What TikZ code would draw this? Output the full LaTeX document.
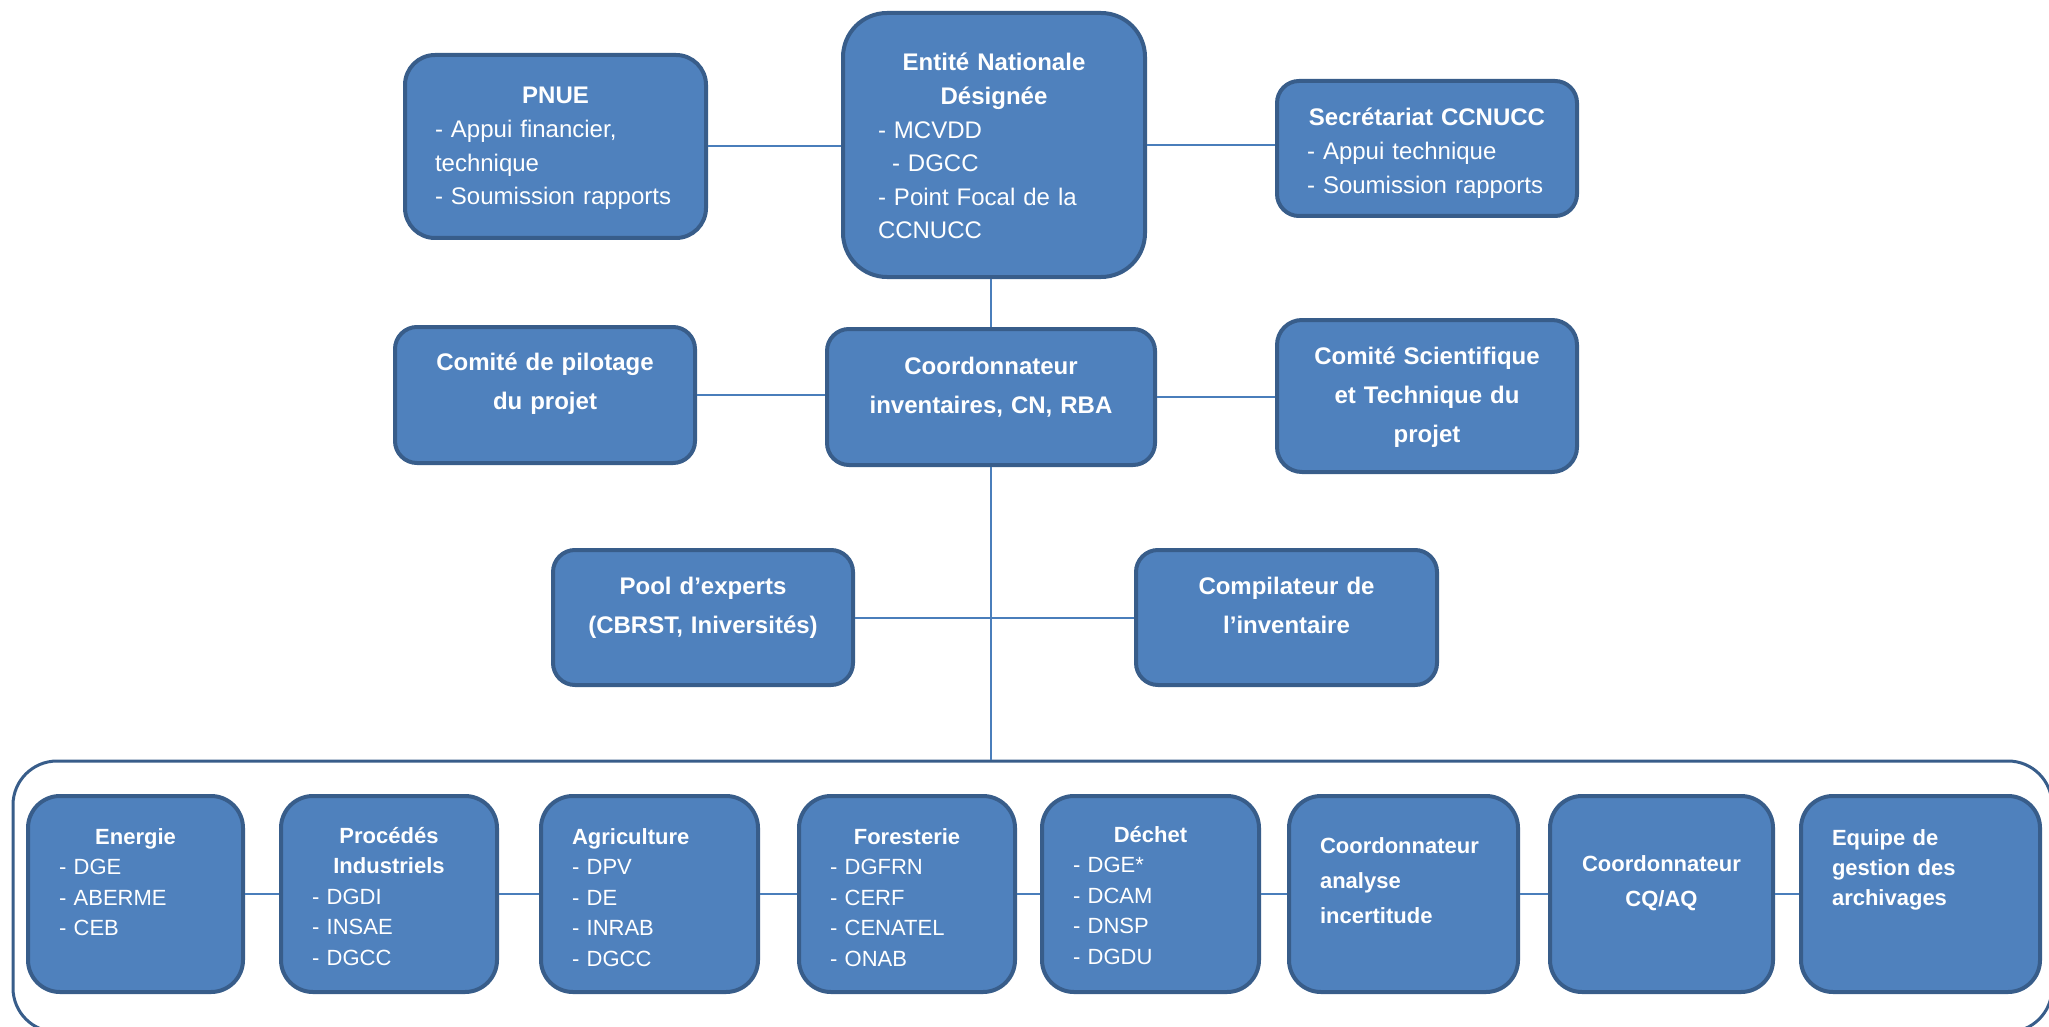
\documentclass[tikz,border=0pt]{standalone}
\usepackage{fontspec}
\setmainfont{Liberation Sans}
\usepackage{tikz}
\usetikzlibrary{positioning}
\definecolor{boxfill}{HTML}{4F81BD}
\definecolor{boxline}{HTML}{385D8A}
\definecolor{linkblue}{HTML}{4A7EBB}
\newcommand{\ttl}[1]{\makebox[\hsize]{\bfseries #1}}
\tikzset{%
  link/.style = {draw=linkblue, line width=1pt},
  card/.style = {rectangle, draw=boxline, fill=boxfill, line width=2pt,
        text=white, inner xsep=15pt, inner ysep=0pt, align=left},
  topbox/.style = {card, font=\fontsize{12}{16.8}\selectfont},
  midbox/.style = {card, inner xsep=10pt, align=center,
        font=\bfseries\fontsize{12}{19.6}\selectfont},
  secbox/.style = {card, inner xsep=15.5pt, text height=24pt, text depth=74pt,
        rounded corners=16pt, font=\fontsize{11}{15.3}\selectfont},
  grp/.style = {rectangle, draw=boxline, fill=white, line width=1.5pt,
        rounded corners=22pt, inner sep=0pt}
}
\begin{document}
\begin{tikzpicture}[x=0.5pt, y=-0.5pt]
\useasboundingbox (0,0) rectangle (2049,1027);
% regroupement des secteurs
\node[grp, minimum width=1019.5pt, minimum height=135.5pt] (team) at (1032.5,896.5) {};
% niveau haut
\node[topbox, text width=120.5pt, text height=24.5pt, text depth=67pt,
      rounded corners=15pt] (pnue) at (555.5,146.5)
    {\ttl{PNUE}\\- Appui financier,\\technique\\- Soumission rapports};
\node[topbox, inner xsep=17.5pt, text width=116pt, text height=29pt,
      text depth=103pt, rounded corners=22pt] (ent) at (994,145)
    {\ttl{Entité Nationale}\\\ttl{Désignée}\\- MCVDD\\\hspace*{7pt}- DGCC\\- Point Focal de la\\CCNUCC};
\node[topbox, text width=120pt, text height=22.5pt, text depth=45pt,
      rounded corners=11pt] (secr) at (1427,148.5)
    {\ttl{Secrétariat CCNUCC}\\- Appui technique\\- Soumission rapports};
% coordination
\node[midbox, text width=130pt, text height=21.5pt, text depth=46.5pt,
      rounded corners=11pt] (copil) at (545,395) {Comité de pilotage\\du projet};
\node[midbox, text width=144pt, text height=22.5pt, text depth=45.5pt,
      rounded corners=11pt] (coord) at (991,397) {Coordonnateur\\inventaires, CN, RBA};
\node[midbox, text width=130pt, text height=22pt, text depth=54pt,
      rounded corners=12.5pt] (csci) at (1427,396) {Comité Scientifique\\et Technique du\\projet};
\node[midbox, text width=130pt, text height=22pt, text depth=45.5pt,
      rounded corners=11pt] (pool) at (703,617.5) {Pool d’experts\\(CBRST, Iniversités)};
\node[midbox, text width=130.5pt, text height=22pt, text depth=45.5pt,
      rounded corners=11pt] (comp) at (1286.5,617.5) {Compilateur de\\l’inventaire};
% secteurs
\node[secbox, text width=76.5pt] (ener) at (135.5,894)
    {\ttl{Energie}\\- DGE\\- ABERME\\- CEB};
\node[secbox, text width=77pt, text height=23.5pt, text depth=74.5pt] (proc) at (389,894)
    {\ttl{Procédés}\\\ttl{Industriels}\\- DGDI\\- INSAE\\- DGCC};
\node[secbox, text width=77.5pt] (agri) at (649.5,894)
    {\textbf{Agriculture}\\- DPV\\- DE\\- INRAB\\- DGCC};
\node[secbox, text width=77pt] (fore) at (907,894)
    {\ttl{Foresterie}\\- DGFRN\\- CERF\\- CENATEL\\- ONAB};
\node[secbox, text width=77.5pt, text height=23pt, text depth=75pt] (dech) at (1150.5,894)
    {\ttl{Déchet}\\- DGE*\\- DCAM\\- DNSP\\- DGDU};
\node[secbox, text width=83.5pt, text height=28.5pt, text depth=69.5pt,
      font=\bfseries\fontsize{11}{17.5}\selectfont] (unc) at (1403.5,894)
    {Coordonnateur\\analyse\\incertitude};
\node[secbox, text width=80.5pt, text height=37.5pt, text depth=60.5pt, align=center,
      font=\bfseries\fontsize{11}{17.5}\selectfont] (qc) at (1661.5,894)
    {Coordonnateur\\CQ/AQ};
\node[secbox, text width=88.5pt, text height=24.5pt, text depth=73.5pt,
      font=\bfseries\fontsize{11}{15}\selectfont] (arch) at (1920.5,894)
    {Equipe de\\gestion des\\archivages};
% liaisons
\draw[link] (pnue.east) -- (pnue.east -| ent.west);
\draw[link] (ent.east) -- (ent.east -| secr.west);
\draw[link] (coord.north) -- (coord.north |- ent.south);
\draw[link] (copil.east) -- (copil.east -| coord.west);
\draw[link] (coord.east) -- (coord.east -| csci.west);
\draw[link] (coord.south) -- (coord.south |- team.north);
\draw[link] (pool.east) -- (comp.west);
\foreach \a/\b in {ener/proc, proc/agri, agri/fore, fore/dech, dech/unc, unc/qc, qc/arch}
  \draw[link] (\a.east) -- (\b.west);
\end{tikzpicture}
\end{document}
